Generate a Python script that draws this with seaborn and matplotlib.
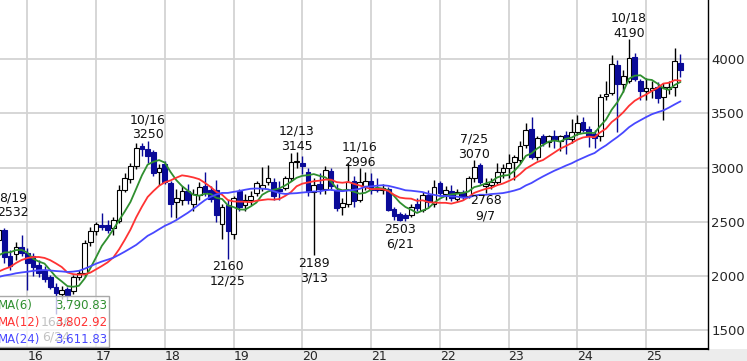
import numpy as np
import pandas as pd
import matplotlib
matplotlib.use("Agg")
import matplotlib.pyplot as plt
import seaborn as sns
from matplotlib.patches import Rectangle

# ---------------- data (monthly candles, Aug 2015 - Jul 2025) ----------------
months = pd.period_range("2015-08", "2025-07", freq="M")

opens = [2330, 2424, 2180, 2200, 2270,
         2210, 2180, 2100, 2055, 1990, 1900, 1830, 1880, 1860, 1990, 2030, 2310,
         2410, 2470, 2470, 2440, 2510, 2795, 2890, 3010, 3195, 3170, 3140, 2960,
         3030, 2860, 2680, 2705, 2780, 2660, 2750, 2830, 2790, 2790, 2480, 2650,
         2390, 2780, 2650, 2700, 2765, 2810, 2870, 2870, 2800, 2810, 2900, 3050,
         3045, 2955, 2770, 2850, 2800, 2970, 2790, 2640, 2660, 2880, 2700, 2830,
         2880, 2810, 2790, 2800, 2620, 2570, 2560, 2560, 2660, 2610, 2745, 2660,
         2855, 2760, 2780, 2710, 2770, 2740, 2900, 3024, 2830, 2840, 2870, 2960,
         3000, 3050, 3070, 3210, 3360, 3100, 3290, 3240, 3290, 3250, 3300, 3260,
         3330, 3420, 3360, 3310, 3290, 3660, 3690, 3950, 3770, 3800, 4020, 3800,
         3705, 3720, 3740, 3650, 3730, 3745, 3965]
highs = [2532, 2440, 2240, 2310, 2380,
         2260, 2210, 2150, 2090, 2010, 1930, 1910, 1900, 2010, 2050, 2330, 2450,
         2500, 2580, 2520, 2545, 2840, 2950, 3040, 3230, 3230, 3250, 3160, 3030,
         3060, 2880, 2800, 2830, 2850, 2800, 2870, 2960, 2830, 2885, 2660, 2700,
         2740, 2800, 2760, 2780, 2880, 3009, 3024, 2900, 2880, 2920, 3132, 3145,
         3110, 3000, 2900, 2950, 3010, 3000, 2850, 2720, 3040, 2920, 2996, 2960,
         2950, 2900, 2850, 2820, 2640, 2590, 2580, 2660, 2720, 2770, 2790, 2885,
         2880, 2830, 2840, 2800, 2790, 2920, 3070, 3040, 2900, 2900, 3040, 3030,
         3130, 3120, 3250, 3410, 3470, 3290, 3310, 3300, 3350, 3300, 3340, 3450,
         3490, 3470, 3380, 3350, 3680, 3800, 4040, 3990, 3900, 4190, 4060, 3820,
         3830, 3800, 3790, 3780, 3800, 4100, 4050]
lows = [2240, 2120, 2050, 2150, 2180,
        1870, 2000, 1990, 1940, 1880, 1646, 1790, 1760, 1830, 1960, 1990, 2280,
        2380, 2420, 2400, 2380, 2490, 2770, 2860, 2990, 3110, 3040, 2920, 2840,
        2850, 2545, 2530, 2650, 2660, 2600, 2700, 2740, 2680, 2500, 2340, 2160,
        2340, 2600, 2600, 2650, 2740, 2780, 2840, 2700, 2700, 2790, 2880, 3000,
        2940, 2740, 2189, 2760, 2760, 2790, 2600, 2560, 2640, 2640, 2680, 2790,
        2760, 2770, 2760, 2600, 2520, 2503, 2510, 2540, 2600, 2590, 2640, 2640,
        2740, 2700, 2690, 2680, 2700, 2720, 2870, 2850, 2768, 2800, 2850, 2900,
        2900, 2885, 3040, 3180, 3080, 3070, 3200, 3190, 3180, 3150, 3130, 3230,
        3300, 3330, 3190, 3180, 3250, 3620, 3670, 3330, 3700, 3780, 3800, 3625,
        3620, 3640, 3600, 3440, 3680, 3660, 3840]
closes = [2424, 2178, 2090, 2270, 2210,
          2115, 2085, 2025, 1975, 1900, 1840, 1870, 1820, 1990, 2030, 2300, 2410,
          2480, 2450, 2425, 2515, 2795, 2900, 3010, 3180, 3170, 3110, 2950, 2995,
          2870, 2660, 2720, 2780, 2700, 2760, 2820, 2770, 2710, 2560, 2640, 2410,
          2720, 2640, 2700, 2740, 2855, 2840, 2900, 2735, 2780, 2900, 3055, 3065,
          3010, 2770, 2840, 2800, 2975, 2830, 2625, 2670, 2870, 2690, 2870, 2880,
          2790, 2790, 2810, 2610, 2550, 2520, 2535, 2640, 2630, 2745, 2680, 2820,
          2765, 2790, 2720, 2770, 2730, 2900, 3008, 2870, 2845, 2870, 2960, 3000,
          3040, 3100, 3200, 3350, 3100, 3270, 3230, 3290, 3260, 3290, 3260, 3330,
          3410, 3350, 3290, 3274, 3655, 3680, 3960, 3770, 3850, 4010, 3820, 3705,
          3735, 3735, 3645, 3745, 3740, 3980, 3900]
# closes before the visible window (Sep 2013 - Jul 2015), only used to seed the moving averages
prior_closes = [1850, 1900, 1980, 2020, 1960, 1900, 1880, 1930, 1990, 1970, 1950, 1950,
                1900, 1860, 1840, 1870, 1900, 1970, 2020, 2080, 2150, 2200, 2265]

ma_windows = [6, 12, 24]
ma_colors = ["#2f8f2f", "#ff3333", "#4848ff"]

year_labels = ["16", "17", "18", "19", "20", "21", "22", "23", "24", "25"]
y_ticks = [1500, 2000, 2500, 3000, 3500, 4000]

# extreme-value annotations: month, label, kind
ann_month = ["2015-08", "2016-06", "2017-10", "2018-12", "2019-12", "2020-03",
             "2020-11", "2021-06", "2022-07", "2022-09", "2024-10"]
ann_text = ["8/19\n2532", "1646\n6/24", "10/16\n3250", "2160\n12/25", "12/13\n3145",
            "2189\n3/13", "11/16\n2996", "2503\n6/21", "7/25\n3070", "2768\n9/7",
            "10/18\n4190"]
ann_kind = ["high", "low", "high", "low", "high", "low", "high", "low", "high",
            "low", "high"]

# ---------------- figure ----------------
sns.set_style("white")
plt.rcParams["font.family"] = ["DejaVu Sans"]

W, H = 747, 361
fig = plt.figure(figsize=(W / 100, H / 100), dpi=100)
fig.patch.set_facecolor("white")
ax_w, ax_h, ax_b = 708, 349, 12
ax = fig.add_axes([0, ax_b / H, ax_w / W, ax_h / H])
fig.patches.append(Rectangle((0, 0), 1, ax_b / H, transform=fig.transFigure,
                             facecolor="#ececec", edgecolor="none", zorder=-5))

x = np.array((months.year - 2016) * 12 + (months.month - 1), dtype=float)
o = np.array(opens, float)
h = np.array(highs, float)
l = np.array(lows, float)
c = np.array(closes, float)
up = c >= o

navy = "#0a0a98"
# wicks
ax.vlines(x[up], l[up], h[up], color="black", lw=1.0, zorder=2)
ax.vlines(x[~up], l[~up], h[~up], color=navy, lw=1.0, zorder=2)
# bodies
bw = 0.82
ax.bar(x[up], np.maximum(c[up] - o[up], 1), bottom=o[up], width=bw,
       facecolor="white", edgecolor="black", linewidth=0.8, zorder=3)
ax.bar(x[~up], np.maximum(o[~up] - c[~up], 1), bottom=c[~up], width=bw,
       facecolor=navy, edgecolor=navy, linewidth=0.8, zorder=3)

# moving averages
all_closes = pd.Series(prior_closes + closes, dtype=float)
ma_last = []
for w, col in zip(ma_windows, ma_colors):
    ma = all_closes.rolling(w).mean().to_numpy()[len(prior_closes):]
    ma_last.append(ma[-1])
    df = pd.DataFrame({"x": x, "ma": ma})
    sns.lineplot(data=df, x="x", y="ma", color=col, lw=1.3, ax=ax, zorder=4)

ax.set_xlim(-4.77, 118.8)
ax.set_ylim(1324.6, 4547.6)
ax.set_xlabel("")
ax.set_ylabel("")

# grid
ax.set_xticks([12 * i for i in range(len(year_labels))])
ax.set_yticks(y_ticks)
ax.grid(True, color="#d3d3d3", lw=1.3)
ax.set_axisbelow(True)

narrow = ["Liberation Sans Narrow", "DejaVu Sans"]
ax.set_xticklabels(year_labels, ha="left", family=narrow, fontsize=9)
ax.yaxis.tick_right()
ax.set_yticklabels([str(v) for v in y_ticks], family=narrow, fontsize=9.5)
ax.tick_params(axis="x", length=0, pad=0.5)
ax.tick_params(axis="y", length=0, pad=2.5)

for s in ["top", "left"]:
    ax.spines[s].set_visible(False)
ax.spines["right"].set_color("black")
ax.spines["right"].set_linewidth(1.0)
ax.spines["bottom"].set_color("black")
ax.spines["bottom"].set_linewidth(1.5)

# annotations
pos = {str(p): xi for p, xi in zip(months, x)}
hi_map = {str(p): v for p, v in zip(months, highs)}
lo_map = {str(p): v for p, v in zip(months, lows)}
for mth, txt, kind in zip(ann_month, ann_text, ann_kind):
    dx = 10.4 if mth == "2015-08" else 0
    if kind == "high":
        ax.annotate(txt, xy=(pos[mth], hi_map[mth]), xytext=(dx, 1.5),
                    textcoords="offset points", ha="center", va="baseline",
                    fontsize=9, color="#111111", zorder=5, annotation_clip=False)
    else:
        ax.annotate(txt, xy=(pos[mth], lo_map[mth]), xytext=(dx, -1.0),
                    textcoords="offset points", ha="center", va="top",
                    fontsize=9, color="#111111", zorder=5, annotation_clip=False)

# moving-average legend box (bottom-left)
ax.add_patch(Rectangle((-0.01, 2 / ax_h), 0.01 + 109 / ax_w, (347 - 296) / ax_h,
                       transform=ax.transAxes, facecolor=(1, 1, 1, 0.75),
                       edgecolor="#a8a8a8", lw=1.0, zorder=6))
row_y = [(ax_h - 305) / ax_h, (ax_h - 322.5) / ax_h, (ax_h - 340) / ax_h]
for w, col, v, yy in zip(ma_windows, ma_colors, ma_last, row_y):
    ax.text(-2 / ax_w, yy, f"MA({w})", transform=ax.transAxes, color=col,
            fontsize=8.5, ha="left", va="center", zorder=7)
    ax.text(107 / ax_w, yy, f"{v:,.2f}", transform=ax.transAxes, color=col,
            fontsize=8.5, ha="right", va="center", zorder=7)

fig.savefig("out.png", dpi=100)
